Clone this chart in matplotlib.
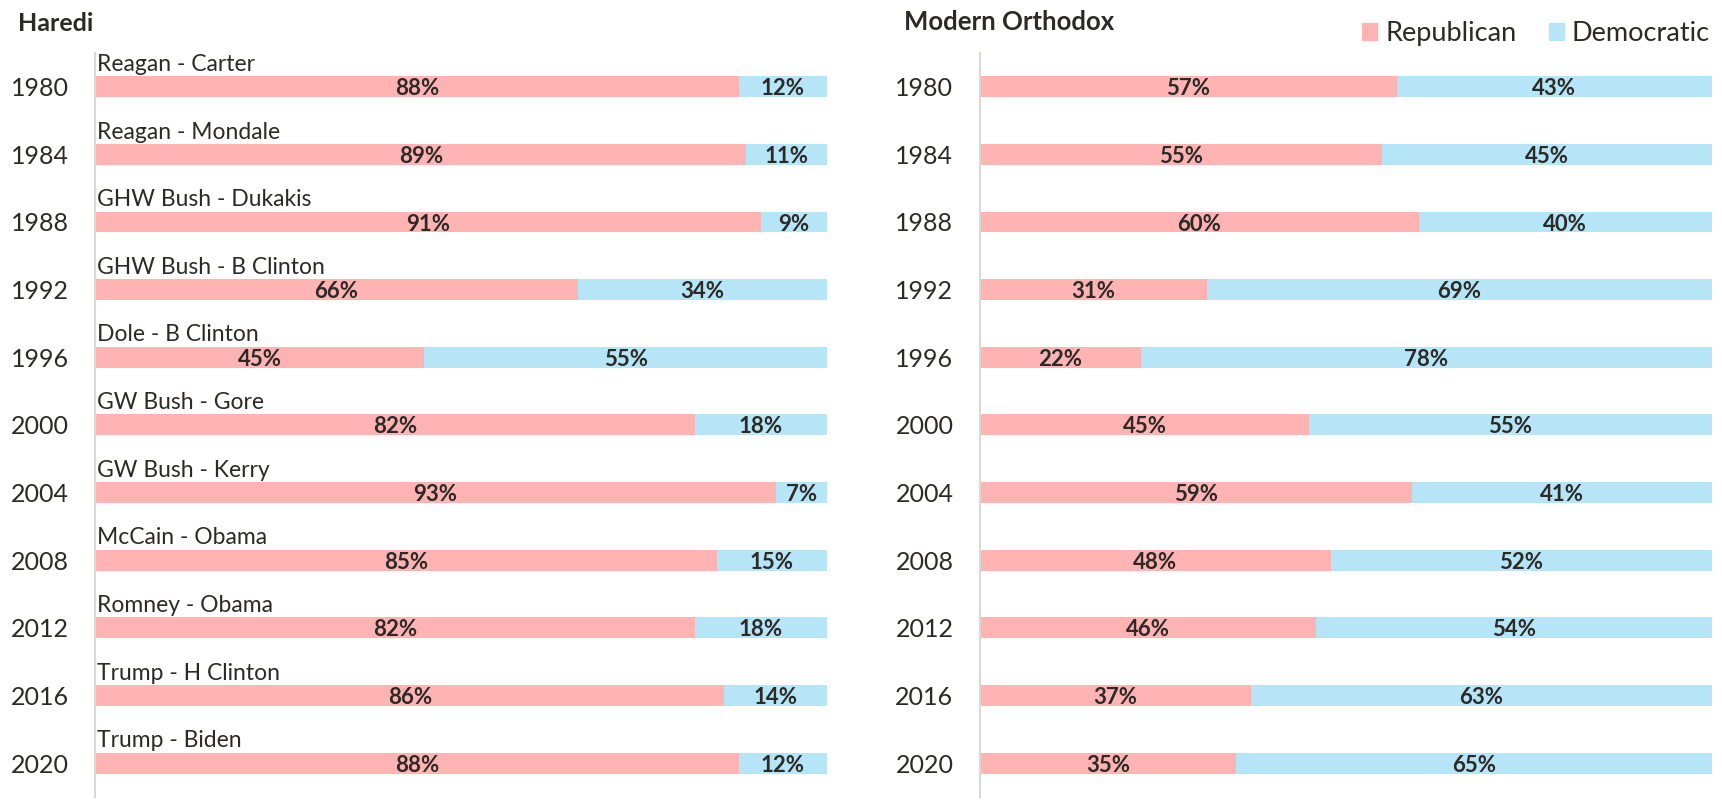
import matplotlib.pyplot as plt
from matplotlib.patches import Patch

plt.rcParams['font.family'] = ['Lato', 'DejaVu Sans']

# données
years = ['1980', '1984', '1988', '1992', '1996', '2000', '2004', '2008', '2012', '2016', '2020']
matchups = ['Reagan - Carter', 'Reagan - Mondale', 'GHW Bush - Dukakis', 'GHW Bush - B Clinton',
            'Dole - B Clinton', 'GW Bush - Gore', 'GW Bush - Kerry', 'McCain - Obama',
            'Romney - Obama', 'Trump - H Clinton', 'Trump - Biden']
haredi_rep = [88, 89, 91, 66, 45, 82, 93, 85, 82, 86, 88]
haredi_dem = [12, 11, 9, 34, 55, 18, 7, 15, 18, 14, 12]
mo_rep = [57, 55, 60, 31, 22, 45, 59, 48, 46, 37, 35]
mo_dem = [43, 45, 40, 69, 78, 55, 41, 52, 54, 63, 65]

red = '#ffb3b3'
blue = '#b5e5f7'
txt = '#2b2a26'

fig = plt.figure(figsize=(17.22, 8.01), dpi=100)
ax1 = fig.add_axes([0.0552, 0.005, 0.425, 0.929])
ax2 = fig.add_axes([0.569, 0.005, 0.425, 0.929])


def draw(ax, rep, dem, show_matchups):
    ypos = list(range(len(years)))
    ax.barh(ypos, rep, height=0.31, color=red)
    ax.barh(ypos, dem, left=rep, height=0.31, color=blue)
    for i in ypos:
        ax.text(rep[i] / 2, i + 0.03, f'{rep[i]}%', ha='center', va='center',
                fontsize=16, fontweight='bold', color=txt)
        ax.text(rep[i] + dem[i] / 2, i + 0.03, f'{dem[i]}%', ha='center', va='center',
                fontsize=16, fontweight='bold', color=txt)
        if show_matchups:
            ax.text(0.3, i - 0.33, matchups[i], ha='left', va='center',
                    fontsize=16.5, color=txt)
    ax.set_xlim(0, 100)
    ax.set_ylim(10.5, -0.5)
    ax.set_yticks(ypos)
    ax.set_yticklabels(years, fontsize=18, color=txt)
    ax.tick_params(axis='y', length=0, pad=19)
    ax.set_xticks([])
    for s in ['top', 'right', 'bottom']:
        ax.spines[s].set_visible(False)
    ax.spines['left'].set_color('#dcd9d0')
    ax.spines['left'].set_linewidth(1.5)


draw(ax1, haredi_rep, haredi_dem, True)
draw(ax2, mo_rep, mo_dem, False)

fig.text(0.0105, 0.971, 'Haredi', fontsize=18, fontweight='bold', color=txt, va='center')
fig.text(0.525, 0.973, 'Modern Orthodox', fontsize=18.5, fontweight='bold', color=txt, va='center')

handles = [Patch(color=red, label='Republican'), Patch(color=blue, label='Democratic')]
fig.legend(handles=handles, loc='center right', bbox_to_anchor=(0.993, 0.958), ncol=2,
           frameon=False, fontsize=19.5, handlelength=0.55, handleheight=0.55,
           handletextpad=0.3, columnspacing=1.2, labelcolor=txt,
           borderpad=0, borderaxespad=0)

fig.savefig('out.png', dpi=100)
